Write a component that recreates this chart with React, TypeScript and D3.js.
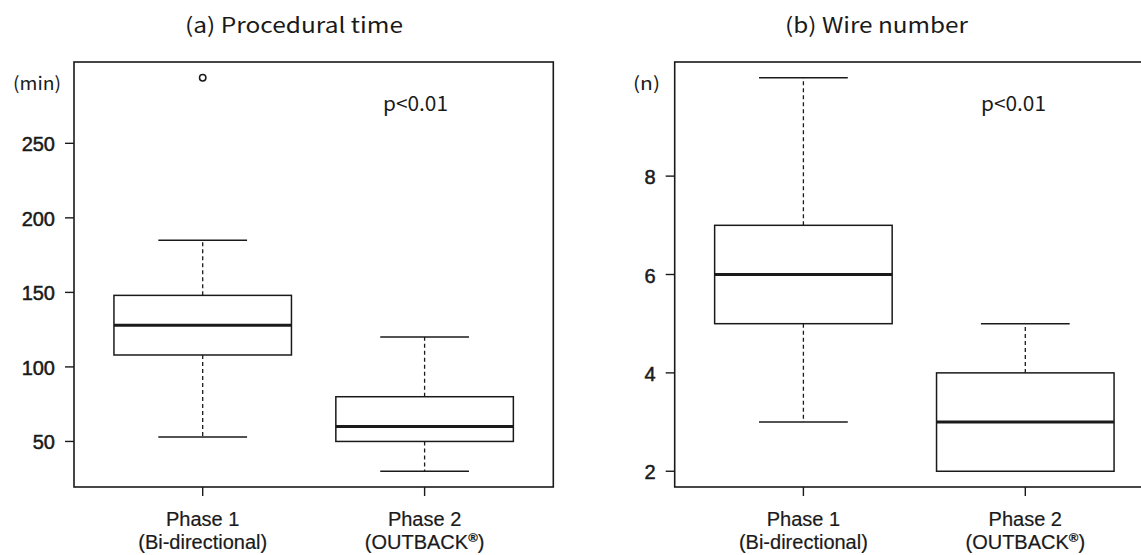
import React from "react";
import * as d3 from "d3";

const categories = ["Phase 1", "Phase 2"];
const subLabelMain = ["(Bi-directional)", "(OUTBACK"];
const subLabelSup = ["", "®"];

const timeMin = [53, 30];
const timeQ1 = [108, 50];
const timeMedian = [128, 60];
const timeQ3 = [148, 80];
const timeMax = [185, 120];
const timeOutliers = [[294], []];
const timeTicks = [50, 100, 150, 200, 250];

const wireMin = [3, 2];
const wireQ1 = [5, 2];
const wireMedian = [6, 3];
const wireQ3 = [7, 4];
const wireMax = [10, 5];
const wireOutliers = [[], []];
const wireTicks = [2, 4, 6, 8];

type PanelProps = {
  left: number;
  right: number;
  title: string;
  titleX: number;
  titleW: number;
  unit: string;
  unitX: number;
  unitW: number;
  pX: number;
  mins: number[];
  q1: number[];
  med: number[];
  q3: number[];
  maxs: number[];
  outliers: number[][];
  ticks: number[];
};

const TOP = 62;
const BOTTOM = 487;
const INK = "#1a1a1a";
const SANS = "'Liberation Sans', Arial, sans-serif";
const JP = "'Noto Sans CJK JP', 'Noto Sans', sans-serif";

function Panel(p: PanelProps) {
  const all = [...p.mins, ...p.maxs, ...p.outliers.flat()];
  const lo = d3.min(all) as number;
  const hi = d3.max(all) as number;
  const pad = (hi - lo) * 0.04;
  const y = d3.scaleLinear().domain([lo - pad, hi + pad]).range([BOTTOM, TOP]);
  const x = d3.scaleLinear().domain([0.42, 2.58]).range([p.left, p.right]);
  const bw = x(0.4) - x(0);
  const cw = x(0.2) - x(0);
  return (
    <g>
      <text x={p.titleX} y={33} fontFamily={JP} fontSize={21} fill={INK} textLength={p.titleW} lengthAdjust="spacingAndGlyphs">
        {p.title}
      </text>
      <rect x={p.left} y={TOP} width={p.right - p.left} height={BOTTOM - TOP} fill="none" stroke={INK} strokeWidth={1.6} />
      <text x={p.unitX} y={90} fontFamily={JP} fontSize={18} fill={INK} textLength={p.unitW} lengthAdjust="spacingAndGlyphs">
        {p.unit}
      </text>
      <text x={p.pX} y={111} fontFamily={JP} fontSize={20} fill={INK} textLength={65} lengthAdjust="spacingAndGlyphs">
        p&lt;0.01
      </text>
      {p.ticks.map((t) => (
        <g key={t}>
          <line x1={p.left - 9} x2={p.left} y1={y(t)} y2={y(t)} stroke={INK} strokeWidth={1.4} />
          <text x={p.left - 19} y={y(t) + 8} textAnchor="end" fontFamily={SANS} fontSize={20} fill={INK} stroke={INK} strokeWidth={0.5}>
            {t}
          </text>
        </g>
      ))}
      {categories.map((c, i) => {
        const cx = x(i + 1);
        return (
          <g key={c}>
            <line x1={cx} x2={cx} y1={BOTTOM} y2={BOTTOM + 9} stroke={INK} strokeWidth={1.4} />
            <text x={cx} y={526} textAnchor="middle" fontFamily={SANS} fontSize={20} fill={INK} stroke={INK} strokeWidth={0.2}>
              {c}
            </text>
            <text x={cx} y={549} textAnchor="middle" fontFamily={SANS} fontSize={20} fill={INK} stroke={INK} strokeWidth={0.2}>
              {subLabelMain[i]}
              {subLabelSup[i] ? (
                <>
                  <tspan fontSize={13} dy={-7} fontWeight="bold">{subLabelSup[i]}</tspan>
                  <tspan dy={7}>)</tspan>
                </>
              ) : null}
            </text>
            <line x1={cx} x2={cx} y1={y(p.q3[i])} y2={y(p.maxs[i])} stroke={INK} strokeWidth={1.3} strokeDasharray="4,3" />
            <line x1={cx} x2={cx} y1={y(p.q1[i])} y2={y(p.mins[i])} stroke={INK} strokeWidth={1.3} strokeDasharray="4,3" />
            <line x1={cx - cw} x2={cx + cw} y1={y(p.maxs[i])} y2={y(p.maxs[i])} stroke={INK} strokeWidth={1.5} />
            <line x1={cx - cw} x2={cx + cw} y1={y(p.mins[i])} y2={y(p.mins[i])} stroke={INK} strokeWidth={1.5} />
            <rect x={cx - bw} y={y(p.q3[i])} width={2 * bw} height={y(p.q1[i]) - y(p.q3[i])} fill="white" stroke={INK} strokeWidth={1.5} />
            <line x1={cx - bw} x2={cx + bw} y1={y(p.med[i])} y2={y(p.med[i])} stroke={INK} strokeWidth={3} />
            {p.outliers[i].map((o, k) => (
              <circle key={k} cx={cx} cy={y(o)} r={3.2} fill="none" stroke={INK} strokeWidth={1.5} />
            ))}
          </g>
        );
      })}
    </g>
  );
}

export default function App() {
  return (
    <div style={{ position: "fixed", left: 0, top: 0 }}>
      <svg width={1141} height={555} style={{ display: "block", background: "white" }}>
        <Panel
          left={74}
          right={553.3}
          title="(a) Procedural time"
          titleX={185}
          titleW={218}
          unit="(min)"
          unitX={13}
          unitW={48}
          pX={383}
          mins={timeMin}
          q1={timeQ1}
          med={timeMedian}
          q3={timeQ3}
          maxs={timeMax}
          outliers={timeOutliers}
          ticks={timeTicks}
        />
        <Panel
          left={674.7}
          right={1154}
          title="(b) Wire number"
          titleX={785}
          titleW={183}
          unit="(n)"
          unitX={633}
          unitW={27}
          pX={981}
          mins={wireMin}
          q1={wireQ1}
          med={wireMedian}
          q3={wireQ3}
          maxs={wireMax}
          outliers={wireOutliers}
          ticks={wireTicks}
        />
      </svg>
    </div>
  );
}
